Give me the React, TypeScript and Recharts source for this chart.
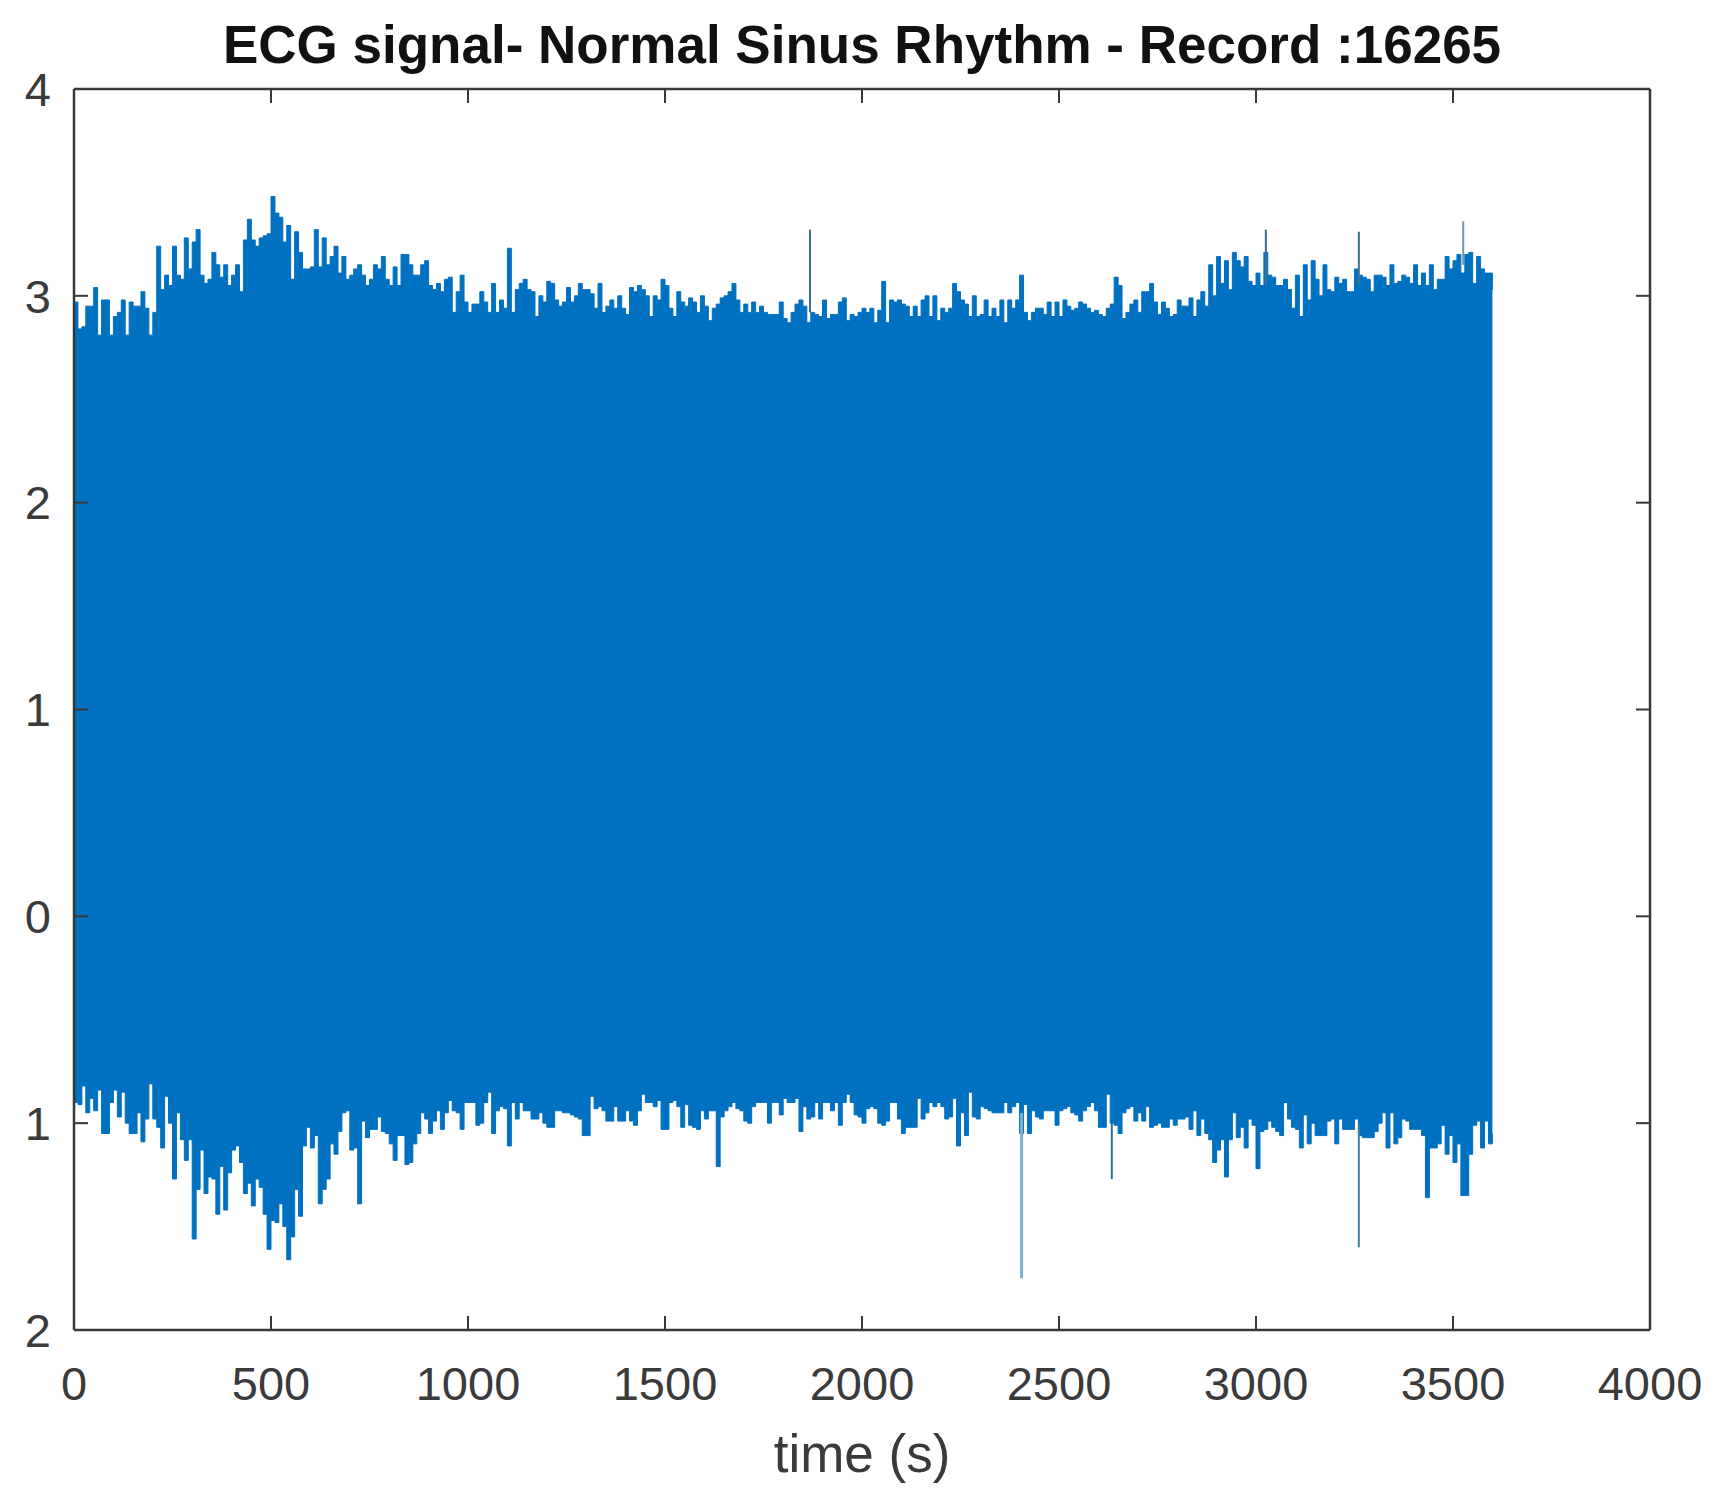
import { ComposedChart, Area, Line, XAxis, YAxis, Label } from 'recharts';

const SAMPLE_STEP = 10; // seconds between envelope readings

// top edge of the trace, one row per 100 s
const upperEnvelope = [
  2.97, 2.84, 2.85, 2.95, 2.95, 3.04, 2.81, 2.98, 2.98, 2.81,
  2.90, 2.92, 2.98, 2.81, 2.97, 2.95, 2.95, 3.02, 2.94, 2.81,
  2.92, 3.24, 3.03, 3.10, 3.05, 3.24, 3.10, 3.08, 3.28, 3.13,
  3.26, 3.32, 3.10, 3.06, 3.08, 3.21, 3.15, 3.09, 3.15, 3.05,
  3.10, 3.15, 3.02, 3.27, 3.37, 3.27, 3.24, 3.28, 3.29, 3.30,
  3.48, 3.40, 3.38, 3.26, 3.34, 3.08, 3.31, 3.21, 3.13, 3.13,
  3.14, 3.32, 3.14, 3.28, 3.15, 3.19, 3.24, 3.11, 3.19, 3.08,
  3.10, 3.13, 3.15, 3.10, 3.05, 3.08, 3.15, 3.13, 3.19, 3.08,
  3.05, 3.14, 3.05, 3.20, 3.20, 3.15, 3.10, 3.10, 3.15, 3.17,
  3.05, 3.03, 3.06, 3.02, 3.08, 3.09, 2.92, 3.02, 3.10, 2.97,
  2.92, 2.96, 2.96, 3.02, 2.97, 2.92, 3.06, 2.92, 2.98, 2.94,
  3.23, 2.92, 3.03, 3.06, 3.08, 3.03, 3.02, 2.90, 3.00, 2.97,
  3.07, 3.06, 2.98, 2.95, 2.97, 3.04, 2.97, 3.00, 3.06, 3.03,
  3.03, 3.01, 2.94, 3.06, 2.92, 2.95, 2.98, 2.94, 3.00, 2.94,
  2.91, 3.04, 3.02, 3.05, 3.03, 3.00, 2.90, 3.00, 2.98, 3.08,
  3.05, 2.94, 2.90, 3.02, 2.97, 2.95, 2.99, 2.97, 2.92, 3.00,
  2.95, 2.88, 2.94, 2.96, 2.99, 3.00, 3.02, 3.06, 2.98, 2.92,
  2.96, 2.92, 2.97, 2.92, 2.95, 2.92, 2.91, 2.91, 2.91, 2.97,
  2.89, 2.87, 2.92, 2.96, 2.98, 2.95, 2.87, 2.92, 2.91, 2.90,
  2.98, 2.89, 2.91, 2.91, 2.97, 2.99, 2.88, 2.91, 2.90, 2.92,
  2.94, 2.92, 2.94, 2.87, 2.93, 3.07, 2.87, 2.98, 2.97, 2.98,
  2.96, 2.95, 2.90, 2.95, 2.90, 2.98, 3.00, 2.90, 3.00, 2.88,
  2.94, 2.92, 2.94, 3.06, 3.02, 2.98, 2.96, 2.90, 3.00, 2.90,
  2.91, 2.98, 2.90, 2.94, 2.90, 2.98, 2.87, 2.98, 2.94, 2.98,
  3.10, 2.92, 2.88, 2.92, 2.94, 2.94, 2.91, 2.97, 2.90, 2.97,
  2.90, 2.98, 2.95, 2.93, 2.94, 2.97, 2.96, 2.94, 2.92, 2.93,
  2.91, 2.90, 2.94, 2.96, 3.09, 3.05, 2.89, 2.92, 2.96, 2.98,
  2.92, 3.02, 3.02, 3.06, 2.97, 2.91, 2.97, 2.94, 2.90, 2.91,
  2.98, 2.95, 2.95, 2.99, 2.90, 2.98, 3.02, 2.95, 3.15, 3.00,
  3.19, 3.06, 3.17, 3.03, 3.21, 3.17, 3.14, 3.19, 3.07, 3.05,
  3.11, 3.05, 3.21, 3.10, 3.09, 3.05, 3.05, 3.08, 3.03, 2.94,
  3.10, 2.90, 3.15, 2.98, 3.17, 3.08, 3.00, 3.15, 3.03, 3.02,
  3.09, 3.06, 3.08, 3.02, 3.02, 3.13, 3.10, 3.09, 3.08, 3.02,
  3.10, 3.10, 3.09, 3.05, 3.15, 3.06, 3.07, 3.10, 3.09, 3.06,
  3.15, 3.05, 3.11, 3.05, 3.15, 3.03, 3.08, 3.08, 3.19, 3.13,
  3.17, 3.20, 3.11, 3.20, 3.21, 3.06, 3.19, 3.13, 3.11, 3.11,
  3.03,
];

// bottom edge of the trace, same grid
const lowerEnvelope = [
  -0.90, -0.91, -0.82, -0.95, -0.88, -0.94, -0.84, -1.05, -1.05, -0.90,
  -0.84, -0.97, -0.85, -1.00, -1.05, -1.05, -0.95, -1.09, -0.98, -0.81,
  -0.98, -1.02, -1.12, -0.87, -1.00, -1.27, -0.95, -1.08, -1.18, -1.08,
  -1.56, -1.32, -1.13, -1.34, -1.26, -1.27, -1.44, -1.21, -1.42, -1.24,
  -1.13, -1.11, -1.19, -1.34, -1.29, -1.40, -1.27, -1.31, -1.44, -1.61,
  -1.47, -1.48, -1.39, -1.50, -1.66, -1.55, -1.32, -1.45, -1.11, -1.02,
  -1.12, -1.06, -1.39, -1.32, -1.27, -1.10, -1.15, -1.04, -0.95, -0.94,
  -1.13, -1.12, -1.39, -0.99, -1.07, -1.03, -1.03, -0.97, -1.04, -1.05,
  -1.10, -1.18, -1.06, -1.06, -1.20, -1.19, -1.10, -1.05, -0.95, -0.98,
  -1.05, -0.99, -0.94, -1.03, -0.95, -0.89, -0.94, -0.95, -1.03, -0.90,
  -0.90, -0.90, -1.01, -1.00, -0.90, -0.85, -1.05, -0.94, -0.92, -0.93,
  -1.11, -0.90, -0.98, -0.90, -0.94, -0.94, -0.98, -0.98, -0.95, -1.00,
  -1.02, -1.02, -0.94, -0.94, -0.95, -0.95, -0.96, -0.97, -0.98, -1.06,
  -1.06, -0.87, -0.93, -0.92, -0.94, -0.99, -0.99, -0.92, -0.99, -0.99,
  -0.94, -0.99, -1.01, -0.94, -0.86, -0.90, -0.90, -0.92, -0.89, -1.03,
  -1.03, -0.90, -0.89, -0.92, -1.02, -0.91, -1.01, -1.02, -1.03, -0.94,
  -0.98, -0.94, -0.94, -1.21, -0.97, -0.94, -0.92, -0.90, -0.93, -0.94,
  -0.99, -1.00, -0.92, -0.90, -0.90, -0.90, -1.00, -0.90, -0.90, -0.96,
  -0.88, -0.90, -0.90, -0.88, -1.04, -0.92, -0.98, -0.97, -0.90, -0.98,
  -0.90, -0.90, -0.94, -0.90, -1.01, -0.90, -0.86, -0.90, -0.96, -0.97,
  -1.00, -0.93, -0.92, -0.93, -1.00, -1.01, -0.99, -0.90, -0.90, -0.98,
  -1.05, -1.02, -1.02, -1.02, -0.88, -0.98, -0.95, -0.90, -0.92, -0.90,
  -0.92, -0.98, -0.97, -0.88, -1.11, -0.95, -1.06, -0.85, -0.97, -0.98,
  -0.92, -0.93, -0.94, -0.95, -0.95, -0.95, -0.90, -0.95, -0.92, -0.90,
  -1.05, -0.91, -1.05, -0.94, -0.97, -0.98, -0.94, -0.94, -0.94, -1.01,
  -0.94, -0.93, -0.92, -0.95, -0.96, -0.99, -0.94, -0.92, -0.90, -0.94,
  -1.02, -1.02, -0.86, -1.00, -1.01, -1.05, -0.95, -0.93, -0.92, -0.99,
  -0.95, -0.99, -0.92, -1.02, -1.01, -1.00, -1.02, -1.02, -0.98, -1.01,
  -0.98, -0.98, -0.97, -1.03, -0.94, -1.06, -0.98, -1.05, -1.08, -1.19,
  -1.13, -1.08, -1.26, -1.08, -0.95, -1.07, -1.02, -1.12, -0.98, -1.01,
  -1.22, -1.04, -1.03, -0.99, -1.02, -1.04, -1.06, -0.90, -0.98, -1.02,
  -1.03, -1.12, -0.96, -1.10, -1.00, -1.06, -1.06, -1.06, -0.99, -0.98,
  -1.10, -0.98, -1.03, -1.03, -1.03, -0.98, -1.06, -1.07, -1.07, -1.07,
  -1.04, -1.00, -0.95, -1.12, -0.95, -1.10, -1.07, -0.98, -0.99, -1.03,
  -1.03, -1.03, -1.06, -1.36, -1.12, -1.12, -1.10, -1.01, -1.15, -1.06,
  -1.19, -1.10, -1.35, -1.35, -1.15, -1.01, -0.99, -1.12, -0.99, -1.10,
  -1.05,
];

// single-sample artefacts that stick out of the envelope
const spikeTimes = [1868, 3025, 3261, 3526, 2405, 3261, 2634];
const spikeFrom = [2.92, 3.05, 3.05, 3.15, -0.95, -1.0, -1.0];
const spikeTo = [3.32, 3.32, 3.31, 3.36, -1.75, -1.6, -1.27];
const spikeColors = ['#3f6f8f', '#3f6f8f', '#3f6f8f', '#6f97ad', '#7fb0d0', '#3f7f9f', '#2f6f8f'];

const xTicks = [0, 500, 1000, 1500, 2000, 2500, 3000, 3500, 4000];
const yTicks = [4, 3, 2, 1, 0, -1, -2];
const yTickLabels = ['4', '3', '2', '1', '0', '1', '2']; // minus signs are missing in the figure

const TEXT_COLOR = '#3a3a3a';
const FRAME_COLOR = '#383838';
const TRACE_COLOR = '#0070c0';
const FONT = '"Liberation Sans", Arial, sans-serif';

const table = upperEnvelope.map((hi, i) => ({ t: i * SAMPLE_STEP, band: [lowerEnvelope[i], hi] }));

export default function App() {
  const axisLine = { stroke: FRAME_COLOR, strokeWidth: 2.5 };
  const tickLine = { stroke: FRAME_COLOR, strokeWidth: 2 };
  const tickStyle = { fontSize: 47, fill: TEXT_COLOR, fontFamily: FONT };

  return (
    <div style={{ position: 'absolute', left: 0, top: 0, width: 1717, height: 1496, background: '#fff' }}>
      <ComposedChart width={1717} height={1496} data={table} margin={{ top: 88, right: 66, bottom: 0, left: 0 }}>
        <XAxis
          dataKey="t"
          type="number"
          domain={[0, 4000]}
          ticks={xTicks}
          interval={0}
          height={166}
          axisLine={axisLine}
          tickLine={tickLine}
          tickSize={-14}
          tickMargin={51}
          tick={tickStyle}
        >
          <Label
            value="time (s)"
            position="insideTop"
            offset={104}
            style={{ fontSize: 53, fill: TEXT_COLOR, fontFamily: FONT }}
          />
        </XAxis>
        <XAxis
          xAxisId="top"
          orientation="top"
          dataKey="t"
          type="number"
          domain={[0, 4000]}
          ticks={xTicks}
          interval={0}
          height={1}
          axisLine={axisLine}
          tickLine={tickLine}
          tickSize={-14}
          tick={tickStyle}
          tickFormatter={() => ''}
        />
        <YAxis
          type="number"
          domain={[-2, 4]}
          ticks={yTicks}
          interval={0}
          width={74}
          axisLine={axisLine}
          tickLine={tickLine}
          tickSize={-14}
          tickMargin={37}
          tick={tickStyle}
          tickFormatter={(v: number) => yTickLabels[yTicks.indexOf(v)]}
        />
        <YAxis
          yAxisId="right"
          orientation="right"
          type="number"
          domain={[-2, 4]}
          ticks={yTicks}
          interval={0}
          width={1}
          axisLine={axisLine}
          tickLine={tickLine}
          tickSize={-14}
          tick={tickStyle}
          tickFormatter={() => ''}
        />
        <Area
          dataKey="band"
          type="stepAfter"
          stroke={TRACE_COLOR}
          strokeWidth={1}
          fill={TRACE_COLOR}
          fillOpacity={1}
          dot={false}
          activeDot={false}
          isAnimationActive={false}
        />
        {/* spikes sit on the top/right axes, which share the same domains; that keeps those axes' ticks alive */}
        {spikeTimes.map((t, i) => (
          <Line
            key={i}
            xAxisId="top"
            yAxisId="right"
            data={[{ t, y: spikeFrom[i] }, { t, y: spikeTo[i] }]}
            dataKey="y"
            stroke={spikeColors[i]}
            strokeWidth={i === 4 ? 3 : 2}
            dot={false}
            activeDot={false}
            isAnimationActive={false}
          />
        ))}
        <text
          x={862}
          y={63}
          textAnchor="middle"
          style={{ fontSize: 53, fontWeight: 'bold', fill: '#111', fontFamily: FONT }}
        >
          ECG signal- Normal Sinus Rhythm - Record :16265
        </text>
      </ComposedChart>
    </div>
  );
}
